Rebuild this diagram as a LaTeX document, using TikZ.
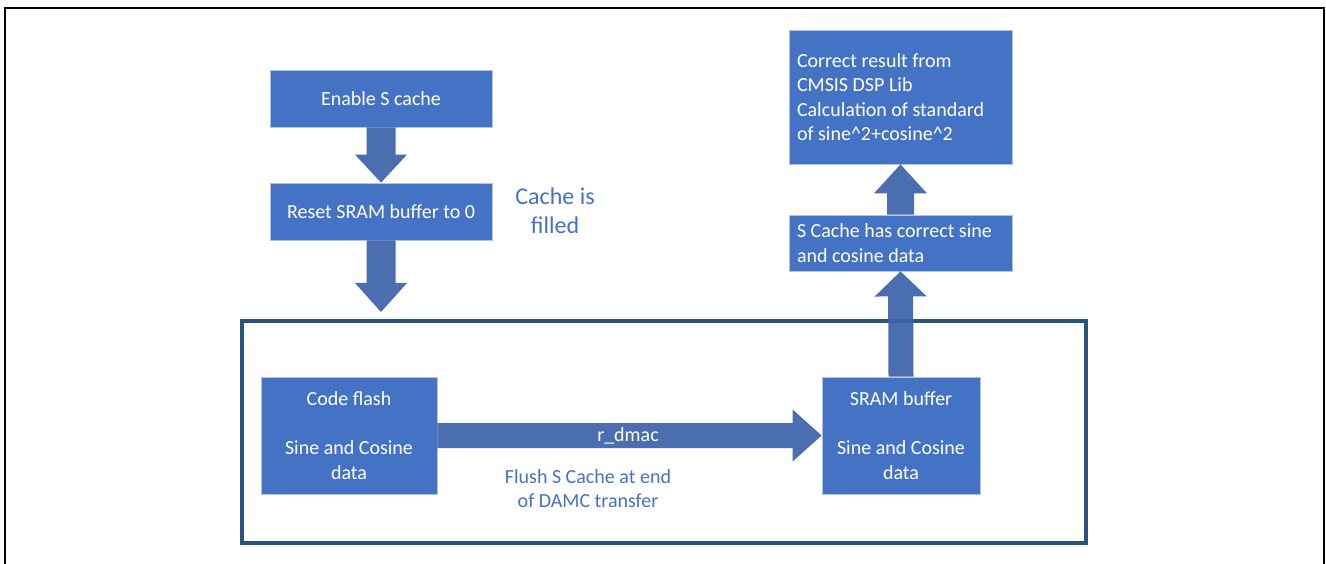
\documentclass[tikz,border=0pt]{standalone}
\usepackage{fontspec}
\setmainfont{Carlito}
\usetikzlibrary{calc}
\definecolor{boxblue}{HTML}{4472C4}
\definecolor{boxedge}{HTML}{B4C3E0}
\definecolor{arrblue}{HTML}{3C63AA}
\definecolor{framecol}{HTML}{2A5582}
\definecolor{txtblue}{HTML}{4472C4}
\tikzset{
  blk/.style={fill=boxblue, draw=boxedge, line width=0.8pt, inner sep=0pt, text=white,
    font=\fontsize{20}{24.5}\selectfont},
  bluetxt/.style={text=txtblue, align=center, inner sep=0pt},
  arr/.style={fill=arrblue, fill opacity=0.93}
}
% block arrow: #1 start, #2 end, #3 shaft half width, #4 head half width, #5 head length
\newcommand{\blkarrow}[5]{%
  \coordinate (hb) at ($(#2)!#5!(#1)$);
  \fill[arr] ($(#1)!#3!90:(#2)$) -- ($(hb)!#3!90:(#2)$) -- ($(hb)!#4!90:(#2)$) -- (#2)
    -- ($(hb)!#4!-90:(#2)$) -- ($(hb)!#3!-90:(#2)$) -- ($(#1)!#3!-90:(#2)$) -- cycle;
}
\begin{document}
\begin{tikzpicture}[x=1pt,y=-1pt]
\useasboundingbox (0,0) rectangle (1326,564);
% outer border
\draw[line width=2pt, black] (5,566) -- (5,8) -- (1324,8) -- (1324,566);
% big frame
\node[draw=framecol, line width=3.2pt, minimum width=844pt, minimum height=222pt, inner sep=0pt] (frame) at (664,432) {};
% boxes
\node[blk, minimum width=222pt, minimum height=57pt] (en) at (381,98.5) {Enable S cache};
\node[blk, minimum width=222pt, minimum height=57pt] (rst) at (381,211.5) {Reset SRAM buffer to 0};
\node[blk, minimum width=223pt, minimum height=134pt, text width=207pt, align=flush left] (res) at (900.5,97)
  {Correct result from\\CMSIS DSP Lib\\Calculation of standard\\of sine\textasciicircum2+cosine\textasciicircum2};
\node[blk, minimum width=223pt, minimum height=56pt, text width=207pt, align=flush left] (sc) at (900.5,243)
  {S Cache has correct sine\\and cosine data};
\node[blk, minimum width=176pt, minimum height=117pt, align=center] (cf) at (349,435.5)
  {Code flash\\[24.5pt]Sine and Cosine\\data};
\node[blk, minimum width=158pt, minimum height=117pt, align=center] (sram) at (901,435.5)
  {SRAM buffer\\[24.5pt]Sine and Cosine\\data};
% free end of arrow into frame
\coordinate (fin) at (381,312);
% arrows
\blkarrow{en.south}{rst.north}{14.5pt}{26pt}{28pt}
\blkarrow{rst.south}{fin}{14.5pt}{26pt}{29pt}
\blkarrow{cf.east}{sram.west}{12.5pt}{26pt}{29pt}
\blkarrow{sram.north}{sc.south}{12.5pt}{26pt}{25pt}
\blkarrow{sc.north}{res.south}{13.5pt}{26.5pt}{29pt}
% labels
\node[text=white, inner sep=0pt, font=\fontsize{20}{24}\selectfont] (rdmac) at (628,436) {r\_dmac};
\node[bluetxt, font=\fontsize{20}{24}\selectfont] (flush) at (588,489) {Flush S Cache at end\\of DAMC transfer};
\node[bluetxt, font=\fontsize{24}{29}\selectfont] (filled) at (555,211) {Cache is\\filled};
\end{tikzpicture}
\end{document}
